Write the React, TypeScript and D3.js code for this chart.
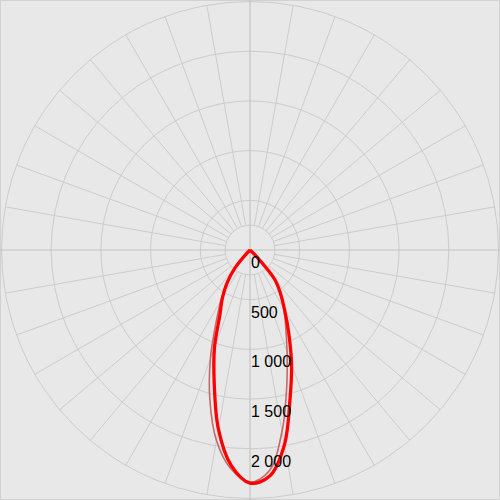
import React from 'react';
import * as d3 from 'd3';

// gamma angles (deg, 0 = straight down)
const gammaAngles = [0, 5, 10, 15, 20, 25, 30, 35, 40, 45, 50];

// C0 / C180 plane (thick red)
const c0Values = [2345, 2283, 1992, 1555, 1222, 922, 696, 536, 391, 100, 0];
const c180Values = [2345, 2175, 1830, 1390, 1045, 715, 555, 400, 232, 40, 0];

// C90 / C270 plane (thin)
const c90Values = [2335, 2229, 1854, 1427, 1090, 850, 680, 520, 360, 100, 0];
const c270Values = [2330, 2209, 1945, 1560, 1165, 810, 585, 410, 235, 40, 0];

const ringValues = [250, 500, 1000, 1500, 2000, 2500];
const labelValues = [0, 500, 1000, 1500, 2000];
const spokeAngles = d3.range(0, 360, 10);

const fmt = (v: number) => d3.format(',')(v).replace(/,/g, ' ');

export default function App() {
  const width = 500;
  const height = 500;
  const cx = 250;
  const cy = 250;

  const rScale = d3.scaleLinear().domain([0, 2500]).range([0, 248.5]);
  const rad = (deg: number) => (deg * Math.PI) / 180;

  // build the profile: right side (from 50 down to 0) then left side (0 up to 50)
  const buildPoints = (right: number[], left: number[]) => {
    const pts: [number, number][] = [];
    for (let i = gammaAngles.length - 1; i >= 0; i--) {
      pts.push([Math.PI - rad(gammaAngles[i]), rScale(right[i])]);
    }
    for (let i = 1; i < gammaAngles.length; i++) {
      pts.push([Math.PI + rad(gammaAngles[i]), rScale(left[i])]);
    }
    return pts;
  };

  const radial = d3.lineRadial<[number, number]>()
    .angle(d => d[0])
    .radius(d => d[1])
    .curve(d3.curveCatmullRom.alpha(0.5));

  const thickPath = radial(buildPoints(c0Values, c180Values)) || '';
  const thinPath = radial(buildPoints(c90Values, c270Values)) || '';

  const inner = rScale(250);
  const outer = rScale(2500);

  return (
    <svg
      width={width}
      height={height}
      style={{ position: 'absolute', left: 0, top: 0 }}
      fontFamily="Liberation Sans, Arial, sans-serif"
    >
      <rect x={0.5} y={0.5} width={width - 1} height={height - 1} fill="#e8e8e8" stroke="#d2d2d2" />
      <g transform={`translate(${cx},${cy})`}>
        {/* rings */}
        {ringValues.map(v => (
          <circle key={`ring-${v}`} r={rScale(v)} fill="none" stroke="#cccccc" strokeWidth={1} />
        ))}
        {/* spokes */}
        {spokeAngles.map(a => {
          const axis = a % 90 === 0;
          const r0 = axis ? 0 : inner;
          const r1 = axis ? 260 : outer;
          const t = rad(a);
          return (
            <line
              key={`spoke-${a}`}
              x1={r0 * Math.sin(t)}
              y1={-r0 * Math.cos(t)}
              x2={r1 * Math.sin(t)}
              y2={-r1 * Math.cos(t)}
              stroke={axis ? '#c4c4c4' : '#cccccc'}
              strokeWidth={axis ? 1.2 : 1}
            />
          );
        })}

        {/* thin curve C90-C270 */}
        <path d={thinPath} fill="none" stroke="#c46a6a" strokeWidth={1.6} />
        {/* thick curve C0-C180 */}
        <path d={thickPath} fill="none" stroke="#ff0000" strokeWidth={3.3} strokeLinejoin="round" />

        {/* value labels */}
        {labelValues.map(v => (
          <text key={`lbl-${v}`} x={1} y={rScale(v) + 18} fontSize={16} fill="#000">
            {fmt(v)}
          </text>
        ))}
      </g>
    </svg>
  );
}
